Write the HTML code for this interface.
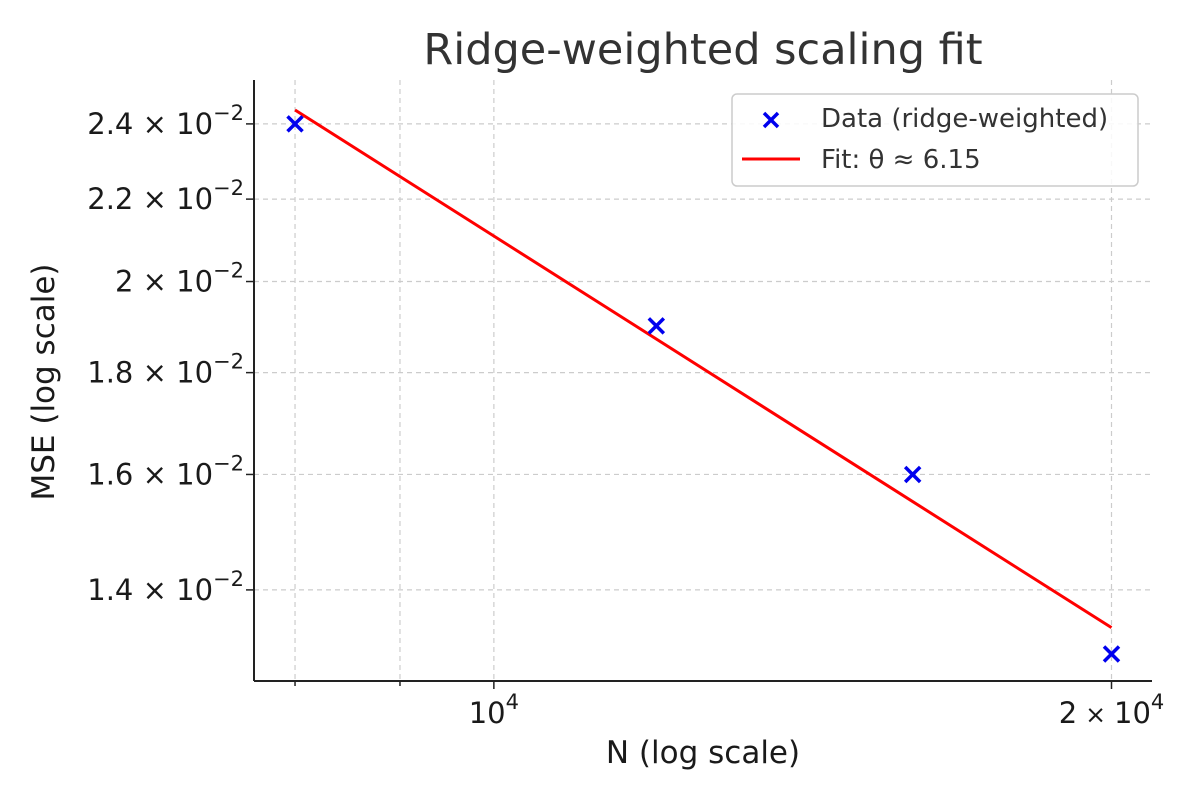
<!DOCTYPE html>
<html><head><meta charset="utf-8"><style>
body{margin:0;background:#fff;}
svg text{font-family:"DejaVu Sans","Liberation Sans",sans-serif;fill:#1a1a1a;}
</style></head><body>
<svg id="chart" width="1200" height="800" xmlns="http://www.w3.org/2000/svg">
<text x="703" y="64" font-size="43" text-anchor="middle" style="fill:#333">Ridge-weighted scaling fit</text>
<text x="703" y="763" font-size="31" text-anchor="middle">N (log scale)</text>
<text transform="translate(54,382) rotate(-90)" font-size="31" text-anchor="middle">MSE (log scale)</text>
<g id="grid"></g><g id="ticks"></g><g id="marks"></g>
<line x1="254" y1="80" x2="254" y2="681" stroke="#222" stroke-width="2"/>
<line x1="254" y1="681" x2="1152" y2="681" stroke="#222" stroke-width="2"/>
<g>
<rect x="732" y="94" width="406" height="92" rx="5" fill="#fff" fill-opacity="0.85" stroke="#ccc" stroke-width="1.5"/>
<path d="M764,113L778,127M764,127L778,113" stroke="#0000ee" stroke-width="3.5"/>
<text x="821" y="127" font-size="26" style="fill:#333">Data (ridge-weighted)</text>
<line x1="742" y1="159" x2="800" y2="159" stroke="#f00" stroke-width="3"/>
<text x="821" y="168" font-size="26" style="fill:#333">Fit: θ ≈ 6.15</text>
</g>
</svg>
<script>
const nValues=[8000,12000,16000,20000];
const mseValues=[0.024,0.019,0.016,0.013];
const yTickValues=[0.024,0.022,0.020,0.018,0.016,0.014];
const yTickMantissa=["2.4","2.2","2","1.8","1.6","1.4"];
const xMajorTicks=[10000,20000];
const xMajorLabels=["","2"];
const xMinorTicks=[8000,9000];
const X0=254,X1=1152,Y0=80,Y1=681;
const xMin=7640,xMax=20930,yMin=0.0126,yMax=0.02525;
const L=Math.log10;
const xs=v=>X0+(L(v)-L(xMin))/(L(xMax)-L(xMin))*(X1-X0);
const ys=v=>Y1-(L(v)-L(yMin))/(L(yMax)-L(yMin))*(Y1-Y0);
const NS="http://www.w3.org/2000/svg";
function mk(p,t,a){const e=document.createElementNS(NS,t);for(const k in a)e.setAttribute(k,a[k]);document.getElementById(p).appendChild(e);return e;}
[...xMajorTicks,...xMinorTicks].forEach((v,i)=>{
 const g=mk('grid','line',{x1:xs(v),x2:xs(v),y1:Y0,y2:Y1,stroke:'#ccc','stroke-dasharray':'5,4','stroke-width':1.2});
 
 
 const major=i<xMajorTicks.length;
 mk('ticks','line',{x1:xs(v),x2:xs(v),y1:Y1,y2:Y1+(major?8:5),stroke:'#222','stroke-width':1.5});
});
xMajorTicks.forEach((v,i)=>{
 const t=mk('ticks','text',{x:xs(v),y:Y1+42,'font-size':29,'text-anchor':'middle'});
 
 
 t.innerHTML=(xMajorLabels[i]?xMajorLabels[i]+'<tspan font-size="25"> × </tspan>':'')+'10<tspan dy="-14" font-size="21">4</tspan>';
});
yTickValues.forEach((v,i)=>{
 const g=mk('grid','line',{x1:X0,x2:X1,y1:ys(v),y2:ys(v),stroke:'#ccc','stroke-dasharray':'5,4','stroke-width':1.2});
 
 
 mk('ticks','line',{x1:X0-8,x2:X0,y1:ys(v),y2:ys(v),stroke:'#222','stroke-width':1.5});
 const t=mk('ticks','text',{x:X0-10,y:ys(v)+10,'font-size':29,'text-anchor':'end'});
 
 
 t.innerHTML=yTickMantissa[i]+' × 10<tspan dy="-14" font-size="21">−2</tspan><tspan dy="14"> </tspan>';
});
const lx=nValues.map(L),ly=mseValues.map(L);
const mx=lx.reduce((a,b)=>a+b)/lx.length,my=ly.reduce((a,b)=>a+b)/ly.length;
let sxy=0,sxx=0;lx.forEach((x,i)=>{sxy+=(x-mx)*(ly[i]-my);sxx+=(x-mx)**2;});
const slope=sxy/sxx,icpt=my-slope*mx;
const fx=[nValues[0],nValues[nValues.length-1]];
const fl=mk('marks','line',{x1:xs(fx[0]),y1:ys(10**(icpt+slope*L(fx[0]))),x2:xs(fx[1]),y2:ys(10**(icpt+slope*L(fx[1]))),stroke:'#f00','stroke-width':3});


nValues.forEach((n,i)=>{
 const cx=xs(n),cy=ys(mseValues[i]),d=7.5;
 const p=mk('marks','path',{d:`M${cx-d},${cy-d}L${cx+d},${cy+d}M${cx-d},${cy+d}L${cx+d},${cy-d}`,stroke:'#0000ee','stroke-width':3.5});
 
 
});
</script>
</body></html>
